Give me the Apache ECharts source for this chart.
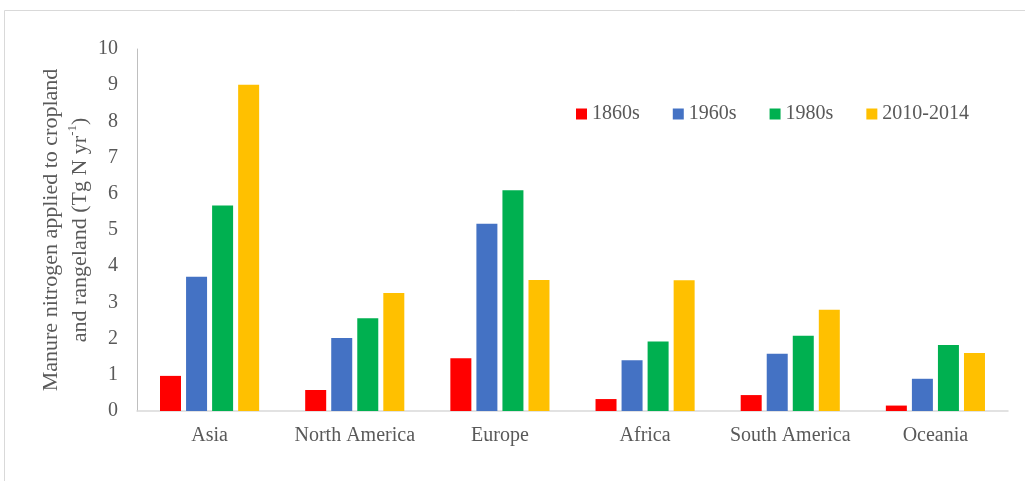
<!DOCTYPE html>
<html>
<head>
<meta charset="utf-8">
<style>
  html, body { margin: 0; padding: 0; background: #ffffff; }
  #chart { width: 1025px; height: 481px; }
</style>
<script src="https://cdn.jsdelivr.net/npm/echarts@6/dist/echarts.min.js"></script>
</head>
<body>
<div id="chart"></div>
<script>
// Regions along the category axis
const regions = ['Asia', 'North America', 'Europe', 'Africa', 'South America', 'Oceania'];

// Manure N applied to cropland and rangeland, Tg N per year
const n1860s = [0.97, 0.58, 1.46, 0.33, 0.44, 0.15];
const n1960s = [3.71, 2.02, 5.17, 1.40, 1.58, 0.89];
const n1980s = [5.68, 2.56, 6.10, 1.92, 2.08, 1.82];
const n2010s = [9.01, 3.26, 3.62, 3.61, 2.80, 1.60];

const periodNames = ['1860s', '1960s', '1980s', '2010-2014'];
const periodColors = ['#FF0000', '#4472C4', '#00B050', '#FFC000'];
const periodValues = [n1860s, n1960s, n1980s, n2010s];

const yTicks = { min: 0, max: 10, interval: 1 };

const serif = '"Liberation Serif", "Times New Roman", serif';
const textGrey = '#595959';

const chart = echarts.init(document.getElementById('chart'), null, { renderer: 'canvas' });

chart.setOption({
  animation: false,
  backgroundColor: '#ffffff',
  textStyle: { fontFamily: serif },
  graphic: [{
    type: 'rect',
    silent: true,
    shape: { x: 4.5, y: 10.5, width: 1100, height: 600 },
    style: { fill: 'none', stroke: '#d9d9d9', lineWidth: 1 }
  }],
  legend: {
    data: periodNames,
    left: 571,
    top: 99,
    itemWidth: 11,
    itemHeight: 11,
    itemGap: 33,
    icon: 'rect',
    textStyle: { fontFamily: serif, fontSize: 20, color: textGrey }
  },
  grid: { left: 137, right: 17, top: 49, bottom: 70, containLabel: false },
  xAxis: {
    type: 'category',
    data: regions,
    axisLine: { lineStyle: { color: '#d9d9d9', width: 1.5 } },
    axisTick: { show: false },
    axisLabel: { interval: 0, fontFamily: serif, fontSize: 20, color: textGrey, margin: 15 }
  },
  yAxis: {
    type: 'value',
    min: yTicks.min,
    max: yTicks.max,
    interval: yTicks.interval,
    splitLine: { show: false },
    axisLine: { show: true, lineStyle: { color: '#bfbfbf', width: 1 } },
    axisTick: { show: false },
    axisLabel: { fontFamily: serif, fontSize: 20, color: textGrey, margin: 19 },
    name: 'Manure nitrogen applied to cropland\nand rangeland (Tg N yr{sup|-1})',
    nameLocation: 'middle',
    nameMoveOverlap: false,
    nameGap: 42,
    nameTextStyle: {
      fontFamily: serif,
      fontSize: 22,
      color: textGrey,
      lineHeight: 29,
      rich: {
        sup: { fontFamily: serif, fontSize: 13, color: textGrey, verticalAlign: 'top', lineHeight: 29 }
      }
    }
  },
  series: periodNames.map((name, i) => ({
    name: name,
    type: 'bar',
    data: periodValues[i],
    barWidth: 21,
    barGap: '24%',
    itemStyle: { color: periodColors[i] }
  }))
});
</script>
</body>
</html>
